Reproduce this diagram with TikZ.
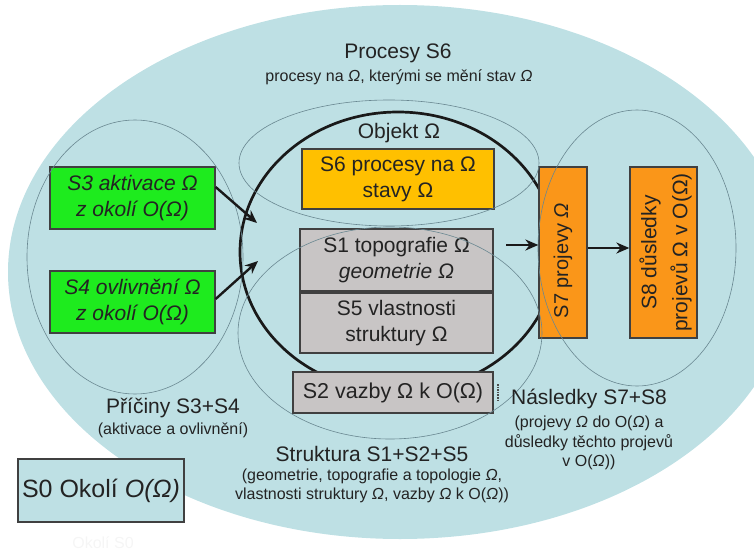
\documentclass[tikz,border=0pt]{standalone}
\usepackage{fontspec}
\setmainfont{Liberation Sans}
\usetikzlibrary{shapes.geometric,arrows.meta}
\definecolor{bgblue}{RGB}{190,224,228}
\definecolor{grn}{RGB}{30,235,30}
\definecolor{yel}{RGB}{255,192,0}
\definecolor{gry}{RGB}{200,197,197}
\definecolor{org}{RGB}{250,150,25}
\definecolor{thinc}{RGB}{105,135,145}
\definecolor{txt}{RGB}{35,35,35}
\begin{document}
\begin{tikzpicture}[x=1pt,y=-1pt,
  box/.style={draw=black!75, line width=1.3pt, inner sep=0pt, align=center, text=txt,
    font=\fontsize{21}{26}\selectfont},
  titletxt/.style={text=txt, inner sep=0pt, align=center, font=\fontsize{21}{25}\selectfont},
  subtxt/.style={text=txt, inner sep=0pt, align=center, font=\fontsize{16}{19.5}\selectfont},
  thinell/.style={draw=thinc, line width=0.6pt},
  arr/.style={draw=black!90, line width=2.4pt, -{Stealth[length=13pt,width=11pt]}}]
\useasboundingbox (0,0) rectangle (754,556);
% outer surroundings
\fill[bgblue] (400,272) ellipse [x radius=392, y radius=267];
% object
\node[draw=black!90, ellipse, line width=2.7pt, minimum width=316pt, minimum height=280pt, inner sep=0pt] (obj) at (398,252) {};
% boxes
\node[box, fill=grn, minimum width=165pt, minimum height=62pt, font=\fontsize{21}{26}\selectfont\itshape] (S3) at (132.5,198) {S3 aktivace Ω\\z okolí O(Ω)};
\node[box, fill=grn, minimum width=165pt, minimum height=62pt, font=\fontsize{21}{26}\selectfont\itshape] (S4) at (132.5,302) {S4 ovlivnění Ω\\z okolí O(Ω)};
\node[box, fill=yel, minimum width=192pt, minimum height=60pt] (S6) at (398,179) {S6 procesy na Ω\\stavy Ω};
\node[box, fill=gry, minimum width=193pt, minimum height=62pt] (S1) at (396.5,260) {S1 topografie Ω\\\textit{geometrie Ω}};
\node[box, fill=gry, minimum width=193pt, minimum height=60pt] (S5) at (396.5,323) {S5 vlastnosti\\struktury Ω};
\node[box, fill=gry, minimum width=200pt, minimum height=41pt, font=\fontsize{21.5}{26}\selectfont] (S2) at (393,392.5) {S2 vazby Ω k O(Ω)};
\node[box, fill=org, minimum width=48pt, minimum height=171pt] (S7) at (563,252.5) {};
\node[rotate=90, text=txt, inner sep=0pt, font=\fontsize{20}{24}\selectfont] (S7t) at ([yshift=-8pt]S7.center) {S7 projevy \textit{Ω}};
\node[box, fill=org, minimum width=67pt, minimum height=171pt] (S8) at (663.5,252.5) {};
\node[rotate=90, text=txt, inner sep=0pt, align=center, font=\fontsize{21}{31}\selectfont] (S8t) at ([xshift=2pt]S8.center) {S8 důsledky\\projevů Ω v O(Ω)};
\draw[densely dotted, line width=1.6pt, black!70] (498,384) -- (498,402);
\node[box, fill=bgblue, minimum width=166pt, minimum height=63pt, font=\fontsize{25}{30}\selectfont] (S0) at (101,490.5) {S0 Okolí \textit{O(Ω)}};
% thin ellipses
\draw[thinell] (389,163) ellipse [x radius=150, y radius=63];
\draw[thinell] (135,257) ellipse [x radius=108, y radius=137];
\draw[thinell] (390,333) ellipse [x radius=152, y radius=106];
\draw[thinell] (637,248) ellipse [x radius=99, y radius=138];
% arrows
\coordinate (t3) at (257,223);
\coordinate (t4) at (258,261);
\coordinate (c7) at (506,245);
\draw[arr] ([yshift=11pt]S3.east) -- (t3);
\draw[arr] ([yshift=3pt]S4.east) -- (t4);
\draw[arr] (c7) -- (c7 -| S7.west);
\draw[arr] ([yshift=4.5pt]S7.east) -- ([yshift=4.5pt]S8.west);
% labels
\node[titletxt] (tproc) at (398,53) {Procesy S6};
\node[subtxt] (sproc) at (399,77) {procesy na \textit{Ω}, kterými se mění stav \textit{Ω}};
\node[titletxt] (tobj) at (399,133) {Objekt Ω};
\node[titletxt] (tpric) at (173,408) {Příčiny S3+S4};
\node[subtxt] (spric) at (173,430) {(aktivace a ovlivnění)};
\node[titletxt] (tstr) at (372,454) {Struktura S1+S2+S5};
\node[subtxt] (sstr) at (372,486) {(geometrie, topografie a topologie \textit{Ω},\\vlastnosti struktury \textit{Ω}, vazby \textit{Ω} k O(\textit{Ω}))};
\node[titletxt] (tnas) at (589,399) {Následky S7+S8};
\node[subtxt] (snas) at (589,443) {(projevy \textit{Ω} do O(\textit{Ω}) a\\důsledky těchto projevů\\v O(\textit{Ω}))};
\node[subtxt, text=black!4] (tokoli) at (103,543) {Okolí S0};
\end{tikzpicture}
\end{document}
